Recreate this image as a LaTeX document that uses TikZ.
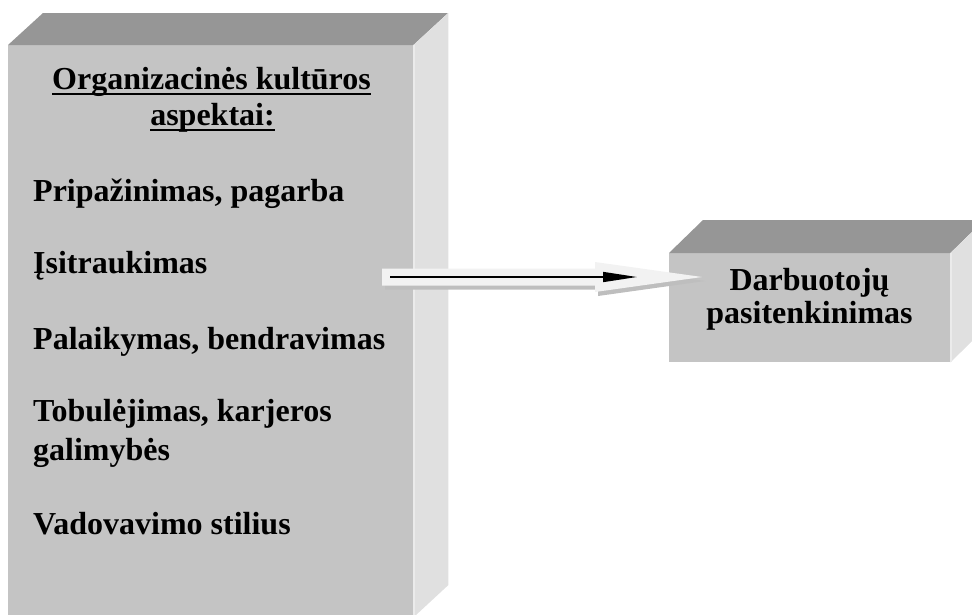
\documentclass[tikz,border=0pt]{standalone}
\usepackage{fontspec}
\setmainfont{Liberation Serif}
\usetikzlibrary{arrows.meta}

\definecolor{frontgray}{HTML}{C4C4C4}
\definecolor{topgray}{HTML}{969696}
\definecolor{sidegray}{HTML}{E0E0E0}
\definecolor{edgegray}{HTML}{EBEBEB}
\definecolor{arrowfill}{HTML}{F2F2F2}
\definecolor{arrowshade}{HTML}{BEBEBE}

% outline of the wide block arrow, shifted by #1
\newcommand\blockarrowoutline[1]{([shift={#1}]tail) ++(0,-8.5) -- ++(213,0) -- ++(0,-6.5)
  -- ([shift={#1}]tip) -- ++(-107,15) -- ++(0,-6.5) -- ++(-213,0) -- cycle}

\begin{document}
\begin{tikzpicture}[x=1pt,y=-1pt,
  frontface/.style={fill=frontgray, inner sep=0pt, anchor=north west},
  topface/.style={fill=topgray},
  sideface/.style={fill=sidegray},
  edgeline/.style={draw=edgegray, line width=1.5pt},
  itemtext/.style={font=\fontsize{32}{38}\selectfont\bfseries, inner sep=0pt, anchor=base west},
  headtext/.style={font=\fontsize{32}{38}\selectfont\bfseries, inner sep=0pt, anchor=base},
  headrule/.style={line width=2.5pt},
  pointer/.style={line width=1.5pt, -{Triangle[length=34pt,width=10pt]}}
]
\useasboundingbox (0,0) rectangle (972,614);
\clip (0,0) rectangle (972,614);

% left cuboid: culture aspects
\node[frontface, minimum width=405pt, minimum height=572pt] (aspects) at (8,45) {};
\fill[topface] (aspects.north west) -- ++(35,-32) -- ++(405,0) -- (aspects.north east) -- cycle;
\fill[sideface] (aspects.north east) -- ++(35,-32) -- ++(0,572) -- (aspects.south east) -- cycle;
\draw[edgeline] ([xshift=1pt]aspects.north east) -- ([xshift=1pt]aspects.south east);

\node[headtext] (head1) at (211.5,89) {Organizacinės kultūros};
\node[headtext] (head2) at (212.5,125) {aspektai:};
\draw[headrule] ([yshift=-5pt]head1.base west) -- ([yshift=-5pt]head1.base east);
\draw[headrule] ([yshift=-5pt]head2.base west) -- ([yshift=-5pt]head2.base east);

\node[itemtext] (item1) at (33,201) {Pripažinimas, pagarba};
\node[itemtext] (item2) at (33,273) {Įsitraukimas};
\node[itemtext] (item3) at (33,349) {Palaikymas, bendravimas};
\node[itemtext] (item4a) at (33,421.5) {Tobulėjimas, karjeros};
\node[itemtext] (item4b) at (33,460) {galimybės};
\node[itemtext] (item5) at (33,534) {Vadovavimo stilius};

% right cuboid: employee satisfaction
\node[frontface, minimum width=281pt, minimum height=109pt] (satisfaction) at (669,253) {};
\fill[topface] (satisfaction.north west) -- ++(34,-33) -- ++(281,0) -- (satisfaction.north east) -- cycle;
\fill[sideface] (satisfaction.north east) -- ++(34,-33) -- ++(0,109) -- (satisfaction.south east) -- cycle;
\draw[edgeline] ([xshift=1pt]satisfaction.north east) -- ([xshift=1pt]satisfaction.south east);

\node[headtext] (sat1) at (809.5,290) {Darbuotojų};
\node[headtext] (sat2) at (809.5,323) {pasitenkinimas};

% wide light arrow with its shadow, then the thin black pointer on it
\coordinate (tail) at (382,277);
\coordinate (tip) at (702,277);
\fill[arrowshade] \blockarrowoutline{(3,4)};
\fill[arrowfill] \blockarrowoutline{(0,0)};

\coordinate (pointerstart) at (390,277);
\coordinate (pointerend) at (637,277);
\draw[pointer] (pointerstart) -- (pointerend);
\end{tikzpicture}
\end{document}
